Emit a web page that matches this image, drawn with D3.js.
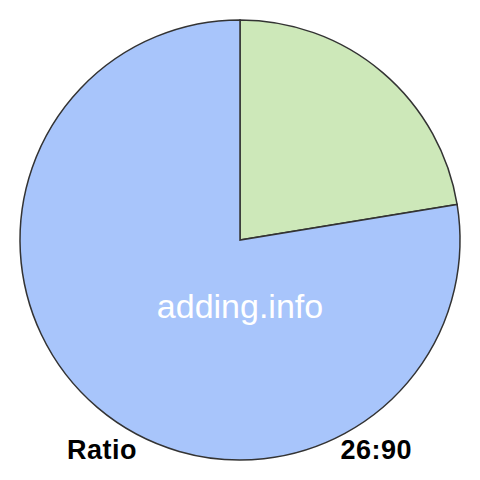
<!DOCTYPE html>
<html>
<head>
<meta charset="utf-8">
<script src="https://cdn.jsdelivr.net/npm/d3@7"></script>
<style>
  html, body { margin: 0; padding: 0; background: #fff; }
  svg { display: block; }
</style>
</head>
<body>
<svg id="chart"></svg>
<script>
// ratio pie — two slices, label row underneath
const labels = ['part', 'rest'];
const values = [26, 90];
const colors = ['#cde8b9', '#a8c5fb'];

const W = 480, H = 480;
const R = 220;

const svg = d3.select('#chart')
    .attr('width', W)
    .attr('height', H);

const pie = d3.pie().sort(null).value(d => d);
const arc = d3.arc().innerRadius(0).outerRadius(R);

const g = svg.append('g').attr('transform', `translate(240, 240)`);

g.selectAll('path')
    .data(pie(values))
    .join('path')
    .attr('d', arc)
    .attr('fill', (d, i) => colors[i])
    .attr('stroke', '#333')
    .attr('stroke-width', 1.5);

// watermark in the middle of the big slice
svg.append('text')
    .attr('x', 240).attr('y', 318)
    .attr('text-anchor', 'middle')
    .attr('fill', '#fff')
    .attr('font-family', 'Liberation Sans, Arial, sans-serif')
    .attr('font-size', '34px')
    .text('adding.info');

// bottom labels
svg.append('text')
    .attr('x', 67).attr('y', 459)
    .attr('fill', '#000')
    .attr('font-family', 'Liberation Sans, Arial, sans-serif')
    .attr('font-weight', 'bold')
    .attr('font-size', '27px')
    .attr('letter-spacing', '0.5px')
    .text('Ratio');

svg.append('text')
    .attr('x', 412).attr('y', 459)
    .attr('text-anchor', 'end')
    .attr('fill', '#000')
    .attr('font-family', 'Liberation Sans, Arial, sans-serif')
    .attr('font-weight', 'bold')
    .attr('font-size', '27px')
    .attr('letter-spacing', '0.5px')
    .text(values.join(':'));
</script>
</body>
</html>
